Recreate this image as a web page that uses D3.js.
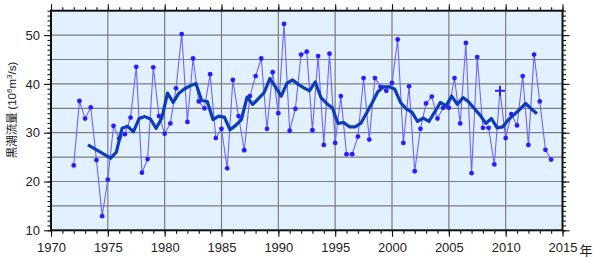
<!DOCTYPE html>
<html>
<head>
<meta charset="utf-8">
<script src="https://cdn.jsdelivr.net/npm/d3@7"></script>
<style>
  body { margin: 0; background: #fff; }
  svg { display: block; font-family: "Liberation Sans", Arial, sans-serif; }
  .grid line { stroke: #7d7d7d; stroke-width: 1.2; }
  .axis path { display: none; }
  .axis line { stroke: #111; stroke-width: 1.1; }
  .axis text { fill: #222; font-size: 13px; }
</style>
</head>
<body>
<div id="chart"></div>
<script>
// half-yearly Kuroshio transport, 1972.0 .. 2014.0
const obsStart = 1972;
const obsValues = [
  23.3, 36.5, 32.9, 35.2, 24.4, 12.9, 20.4, 31.4, 28.8, 29.7,
  33.1, 43.5, 21.8, 24.6, 43.4, 33.4, 29.8, 31.9, 39.1, 50.2,
  32.2, 45.2, 36.4, 35.0, 42.0, 28.9, 30.8, 22.7, 40.8, 33.4,
  26.4, 37.5, 41.6, 45.2, 30.8, 42.4, 34.0, 52.3, 30.4, 34.9,
  46.0, 46.6, 30.5, 45.7, 27.5, 46.2, 27.9, 37.5, 25.6, 25.6,
  29.2, 41.2, 28.6, 41.2, 39.4, 38.6, 40.2, 49.1, 27.9, 39.5,
  22.1, 30.8, 36.0, 37.4, 32.9, 35.1, 35.1, 41.2, 31.9, 48.4,
  21.7, 45.5, 31.0, 31.0, 23.5, 38.6, 28.9, 33.8, 31.5, 41.6,
  27.5, 46.0, 36.4, 26.5, 24.5
];
const obsYears = obsValues.map((v, i) => obsStart + i * 0.5);

// point drawn with a cross marker
const crossYear = 2009.5;

// running mean (thick line)
const smoothYears = [1973.25].concat(d3.range(1975.25, 2012.76, 0.5));
const smoothValues = [
  27.5,
  24.8, 26.0, 30.9, 31.3, 30.2, 32.9, 33.3, 32.8, 30.9, 33.0,
  38.1, 36.2, 38.1, 39.0, 39.6, 40.1, 36.6, 36.4, 32.7, 33.4,
  33.2, 30.6, 31.5, 32.7, 37.3, 35.8, 37.0, 38.2, 41.1, 39.4,
  37.5, 40.1, 40.8, 39.9, 39.2, 38.6, 40.4, 37.2, 36.0, 35.1,
  31.9, 32.1, 31.2, 31.2, 31.9, 34.0, 36.1, 38.4, 39.4, 39.4,
  38.9, 36.2, 34.9, 34.2, 32.3, 33.0, 32.3, 34.2, 36.2, 35.5,
  37.5, 35.8, 37.2, 36.3, 34.9, 33.6, 31.9, 32.9, 31.0, 31.2,
  32.7, 33.7, 34.8, 36.0, 34.9, 33.9
];

const xMajor = [1970, 1975, 1980, 1985, 1990, 1995, 2000, 2005, 2010, 2015];
const yMajor = [10, 20, 30, 40, 50];

const W = 600, H = 258;
const margin = {top: 10.7, right: 37.5, bottom: 27.7, left: 51};
const width = W - margin.left - margin.right;
const height = H - margin.top - margin.bottom;

const svg = d3.select('#chart').append('svg')
    .attr('width', W)
    .attr('height', H);

const g = svg.append('g')
    .attr('transform', `translate(${margin.left},${margin.top})`);

const x = d3.scaleLinear().domain([1970, 2015]).range([0, width]);
const y = d3.scaleLinear().domain([10, 55]).range([height, 0]);

// plot background
g.append('rect')
    .attr('width', width)
    .attr('height', height)
    .attr('fill', '#e2f1ff');

// grid
const grid = g.append('g').attr('class', 'grid');
grid.selectAll('.gx')
    .data(d3.range(1975, 2015, 5))
    .join('line')
    .attr('x1', d => x(d)).attr('x2', d => x(d))
    .attr('y1', 0).attr('y2', height);
grid.selectAll('.gy')
    .data(d3.range(15, 55, 5))
    .join('line')
    .attr('y1', d => y(d)).attr('y2', d => y(d))
    .attr('x1', 0).attr('x2', width);

// axes: minor + major on all four sides
const minorYears = d3.range(1970, 2016, 1);
const minorVals = d3.range(10, 56, 1);

g.append('g').attr('class', 'axis').attr('transform', `translate(0,${height})`)
    .call(d3.axisBottom(x).tickValues(minorYears).tickSize(3.5).tickFormat(''));
g.append('g').attr('class', 'axis').attr('transform', `translate(0,${height})`)
    .call(d3.axisBottom(x).tickValues(xMajor).tickSize(6.5).tickPadding(6).tickFormat(d3.format('d')));
g.append('g').attr('class', 'axis')
    .call(d3.axisTop(x).tickValues(minorYears).tickSize(3.5).tickFormat(''));
g.append('g').attr('class', 'axis')
    .call(d3.axisTop(x).tickValues(xMajor).tickSize(6.5).tickFormat(''));

g.append('g').attr('class', 'axis')
    .call(d3.axisLeft(y).tickValues(minorVals).tickSize(3.5).tickFormat(''));
g.append('g').attr('class', 'axis')
    .call(d3.axisLeft(y).tickValues(yMajor).tickSize(7).tickPadding(4).tickFormat(d3.format('d')));
g.append('g').attr('class', 'axis').attr('transform', `translate(${width},0)`)
    .call(d3.axisRight(y).tickValues(minorVals).tickSize(3.5).tickFormat(''));
g.append('g').attr('class', 'axis').attr('transform', `translate(${width},0)`)
    .call(d3.axisRight(y).tickValues(yMajor).tickSize(7).tickFormat(''));

// thin observation line
const obs = obsYears.map((t, i) => ({t: t, v: obsValues[i]}));
g.append('path')
    .datum(obs)
    .attr('fill', 'none')
    .attr('stroke', '#6f62ff')
    .attr('stroke-width', 1.1)
    .attr('d', d3.line().x(d => x(d.t)).y(d => y(d.v)));

g.selectAll('.dot')
    .data(obs.filter(d => d.t !== crossYear))
    .join('circle')
    .attr('class', 'dot')
    .attr('cx', d => x(d.t))
    .attr('cy', d => y(d.v))
    .attr('r', 2.4)
    .attr('fill', '#2a1cff');

// cross marker
const cross = obs.find(d => d.t === crossYear);
g.append('path')
    .attr('d', `M${x(cross.t) - 5},${y(cross.v)}h10M${x(cross.t)},${y(cross.v) - 5}v10`)
    .attr('stroke', '#2a1cff')
    .attr('stroke-width', 2);

// running mean
const smooth = smoothYears.map((t, i) => ({t: t, v: smoothValues[i]}));
g.append('path')
    .datum(smooth)
    .attr('fill', 'none')
    .attr('stroke', '#0c3cb8')
    .attr('stroke-width', 3.2)
    .attr('stroke-linejoin', 'round')
    .attr('d', d3.line().x(d => x(d.t)).y(d => y(d.v)));

// frame
g.append('rect')
    .attr('width', width)
    .attr('height', height)
    .attr('fill', 'none')
    .attr('stroke', '#111')
    .attr('stroke-width', 2);

// labels
svg.append('text')
    .attr('x', margin.left + width + 17)
    .attr('y', 255)
    .attr('font-family', '"Noto Sans CJK JP", sans-serif')
    .attr('font-size', 13)
    .attr('fill', '#222')
    .text('年');

const ylab = svg.append('text')
    .attr('transform', `translate(16,110) rotate(-90)`)
    .attr('text-anchor', 'middle')
    .attr('font-size', 11.5)
    .attr('fill', '#222');
ylab.append('tspan').attr('font-family', '"Noto Sans CJK JP", sans-serif').text('黒潮流量 ');
ylab.append('tspan').text('(10');
ylab.append('tspan').attr('font-size', 8).attr('dy', -4.5).text('6');
ylab.append('tspan').attr('dy', 4.5).text('m');
ylab.append('tspan').attr('font-size', 8).attr('dy', -4.5).text('3');
ylab.append('tspan').attr('dy', 4.5).text('/s)');
</script>
</body>
</html>
